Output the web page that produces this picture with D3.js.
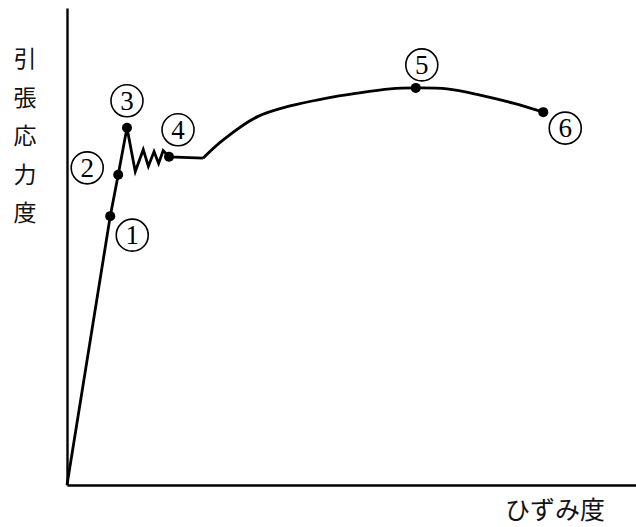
<!DOCTYPE html>
<html>
<head>
<meta charset="utf-8">
<style>
  body { margin: 0; background: #fff; }
  svg { display: block; }
  .axis path { stroke: #000; stroke-width: 2.4; }
  .lbl { font-family: "Noto Sans CJK JP", sans-serif; fill: #111; }
  .num { font-family: "Liberation Serif", serif; font-size: 27px; fill: #000; }
</style>
</head>
<body>
<svg width="636" height="527"></svg>
<script src="https://d3js.org/d3.v7.min.js"></script>
<script>

// elastic line, peak, zigzag (yield) and flat part, as strain / stress
var strainA = [0, 7.6, 9.0, 10.54, 12.0, 13.4, 14.3, 15.3, 16.1, 16.9, 17.93, 23.9];
var stressA = [0, 56.6, 65.3, 75.2, 66.0, 70.6, 67.1, 70.2, 67.7, 70.4, 69.1, 68.8];

// hardening curve up to the breaking point
var strainB = [23.9, 27.4, 33.4, 39.2, 45.0, 51.0, 56.8, 61.3, 66.8, 72.6, 78.4, 83.7];
var stressB = [68.8, 72.6, 77.5, 79.8, 81.3, 82.5, 83.4, 83.6, 83.4, 82.1, 80.4, 78.5];

// marked points
var markNames  = ["①", "②", "③", "④", "⑤", "⑥"];
var markStrain = [7.6, 9.0, 10.54, 17.93, 61.3, 83.7];
var markStress = [56.6, 65.3, 75.2, 69.1, 83.6, 78.5];

var yTitle = ["引", "張", "応", "力", "度"];
var xTitle = "ひずみ度";

var svg = d3.select("svg"),
    width = +svg.attr("width"),
    height = +svg.attr("height");

var x = d3.scaleLinear().domain([0, 100]).range([67, 636]);
var y = d3.scaleLinear().domain([0, 100]).range([485, 10]);

svg.append("g")
    .attr("class", "axis")
    .attr("transform", "translate(0,485)")
    .call(d3.axisBottom(x).tickValues([]).tickSizeOuter(0));

svg.append("g")
    .attr("class", "axis")
    .attr("transform", "translate(67,0)")
    .call(d3.axisLeft(y.copy().range([485, 8])).tickValues([]).tickSizeOuter(0));

var ptsA = strainA.map(function(d, i) { return [d, stressA[i]]; });
var ptsB = strainB.map(function(d, i) { return [d, stressB[i]]; });

var lineA = d3.line()
    .x(function(d) { return x(d[0]); })
    .y(function(d) { return y(d[1]); });

var lineB = d3.line()
    .curve(d3.curveCatmullRom)
    .x(function(d) { return x(d[0]); })
    .y(function(d) { return y(d[1]); });

svg.append("path")
    .datum(ptsA)
    .attr("fill", "none")
    .attr("stroke", "#000")
    .attr("stroke-width", 2.8)
    .attr("stroke-linejoin", "miter")
    .attr("d", lineA);

svg.append("path")
    .datum(ptsB)
    .attr("fill", "none")
    .attr("stroke", "#000")
    .attr("stroke-width", 2.8)
    .attr("d", lineB);

// label offsets from each dot (px)
var offX = [22, -31, 0, 9, 6, 22];
var offY = [19, -7, -27, -27, -23, 16];

var marks = svg.append("g").selectAll("g")
    .data(markNames)
  .enter().append("g");

marks.append("circle")
    .attr("cx", function(d, i) { return x(markStrain[i]); })
    .attr("cy", function(d, i) { return y(markStress[i]); })
    .attr("r", 5)
    .attr("fill", "#000");

var tags = marks.append("g")
    .attr("transform", function(d, i) {
      return "translate(" + (x(markStrain[i]) + offX[i]) + "," + (y(markStress[i]) + offY[i]) + ")";
    });

tags.append("circle")
    .attr("r", 16)
    .attr("fill", "none")
    .attr("stroke", "#000")
    .attr("stroke-width", 1.6);

tags.append("text")
    .attr("class", "num")
    .attr("text-anchor", "middle")
    .attr("dy", "0.34em")
    .text(function(d, i) { return String(i + 1); });

svg.append("g").selectAll("text")
    .data(yTitle)
  .enter().append("text")
    .attr("class", "lbl")
    .attr("x", 25)
    .attr("y", function(d, i) { return 59 + i * 38.5; })
    .attr("dy", "0.36em")
    .attr("text-anchor", "middle")
    .attr("font-size", 23)
    .text(function(d) { return d; });

svg.append("text")
    .attr("class", "lbl")
    .attr("x", 505)
    .attr("y", 519)
    .attr("font-size", 25)
    .text(xTitle);

</script>
</body>
</html>
